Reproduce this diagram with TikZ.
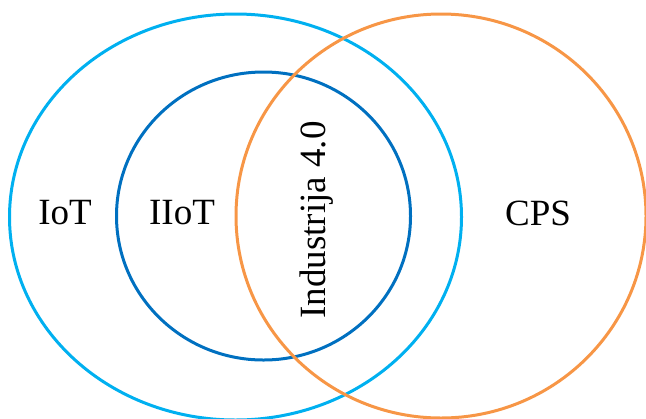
\documentclass[tikz,border=0pt]{standalone}
\usepackage{fontspec}
\setmainfont{Liberation Serif}
\definecolor{iotblue}{HTML}{00B0F0}
\definecolor{iiotblue}{HTML}{0070C0}
\definecolor{cpsorange}{HTML}{F79646}
\begin{document}
\begin{tikzpicture}[x=0.5pt,y=-0.5pt,
  ring/.style={line width=1.5pt},
  lbl/.style={font=\fontsize{18.5}{20}\selectfont}]
\useasboundingbox (0,0) rectangle (646,418);
\clip (0,0) rectangle (646,418);
\draw [ring, iotblue] (235.5,217) ellipse [x radius=226, y radius=203];
\draw [ring, iiotblue] (263.5,216) ellipse [x radius=147, y radius=144];
\draw [ring, cpsorange] (441,216) ellipse [x radius=205, y radius=202];
\node (iot) at (65,213) [lbl] {IoT};
\node (iiot) at (182,213) [lbl] {IIoT};
\node (cps) at (538,213) [lbl] {CPS};
\node (ind) at (317,220) [lbl, rotate=90] {Industrija 4.0};
\end{tikzpicture}
\end{document}
